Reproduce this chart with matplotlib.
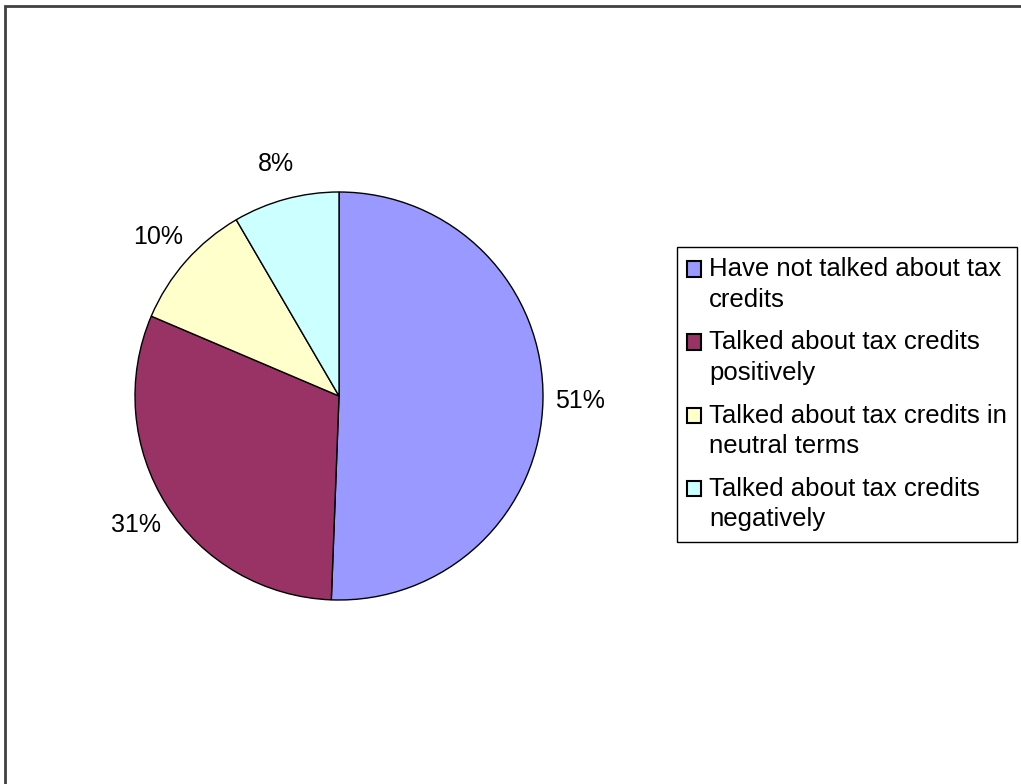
import matplotlib.pyplot as plt
from matplotlib.patches import Rectangle
from matplotlib.legend_handler import HandlerPatch

# datos del grafico
categorias = ['Have not talked about tax\ncredits',
              'Talked about tax credits\npositively',
              'Talked about tax credits in\nneutral terms',
              'Talked about tax credits\nnegatively']
valores = [50.6, 30.8, 10.2, 8.4]
colores = ['#9999FF', '#993366', '#FFFFCC', '#CCFFFF']

plt.rcParams['font.family'] = ['Liberation Sans', 'DejaVu Sans']

fig = plt.figure(figsize=(10.21, 7.84), dpi=100)

# marco exterior
fig.patches.append(Rectangle((5/1021, -0.1), 1.2, 1 - 6/784 + 0.1,
                             transform=fig.transFigure, fill=False,
                             edgecolor='#404040', linewidth=2))

ax = fig.add_axes([135/1021, 1 - 600/784, 408/1021, 408/784])
wedges, texts, autotexts = ax.pie(valores, colors=colores, startangle=90,
                                  counterclock=False, radius=1,
                                  autopct=lambda p: f'{p:.0f}%',
                                  pctdistance=1.18,
                                  wedgeprops=dict(edgecolor='black', linewidth=1),
                                  textprops=dict(fontsize=18, color='black'))
ax.set_xlim(-1, 1)
ax.set_ylim(-1, 1)
ax.set_aspect('equal')

# cuadrito de la leyenda alineado con la primera linea
def caja(legend, orig_handle, xdescent, ydescent, width, height, fontsize):
    return Rectangle((-xdescent, -ydescent + 0.62*fontsize), width, height)

leg = fig.legend(wedges, categorias, loc='upper left',
                 bbox_to_anchor=(677/1021, 1 - 247/784),
                 fontsize=18.5, frameon=True, fancybox=False,
                 edgecolor='black', framealpha=1,
                 handler_map={w: HandlerPatch(patch_func=caja) for w in wedges},
                 handlelength=0.55, handleheight=0.55, handletextpad=0.3,
                 labelspacing=0.72, borderpad=0.4, borderaxespad=0)
leg.get_frame().set_linewidth(1)
for t in leg.get_texts():
    t.set_linespacing(1.35)
for h in leg.legend_handles:
    h.set_linewidth(1.5)

plt.savefig('out.png', dpi=100)
